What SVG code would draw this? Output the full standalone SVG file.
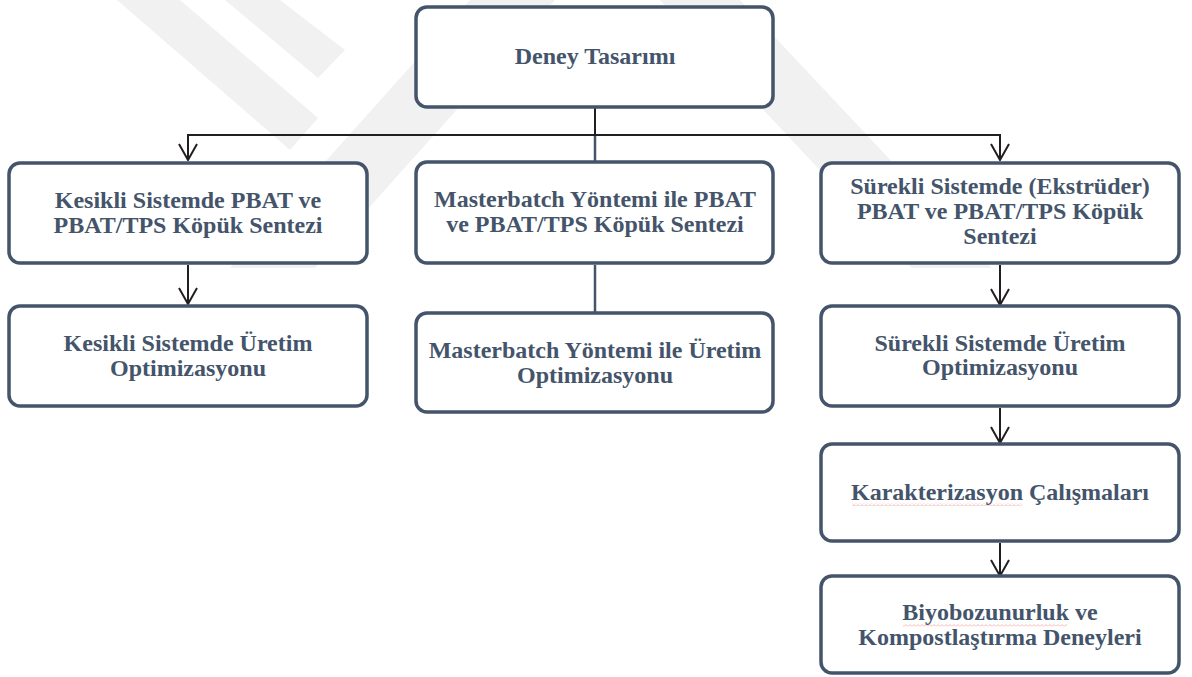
<svg xmlns="http://www.w3.org/2000/svg" width="1192" height="677" viewBox="0 0 1192 677">
<style>
.box{fill:#fff;stroke:#44546A;stroke-width:3.5}
.t{font-family:'Liberation Serif','DejaVu Serif',serif;font-weight:700;font-size:24px;fill:#44546A;text-anchor:middle}
.c{fill:none;stroke:#231F20;stroke-width:2}
.cs{fill:none;stroke:#44546A;stroke-width:2.5}
.wm{fill:#f1f1f1}
</style>
<defs>
<marker id="av" viewBox="0 0 20 18" refX="10" refY="17" markerWidth="20" markerHeight="18" markerUnits="userSpaceOnUse" orient="0">
<path d="M1,1 L10,17 L19,1" fill="none" stroke="#231F20" stroke-width="2"/>
</marker>
<pattern id="sq" width="4" height="3" patternUnits="userSpaceOnUse">
<polyline points="0,2.5 2,0.5 4,2.5" fill="none" stroke="#f2a3a3" stroke-width="0.8"/>
</pattern>
</defs>
<rect width="1192" height="677" fill="#fff"/>
<g id="watermark">
<polygon class="wm" points="117,0 180,0 318,118 290,150"/>
<polygon class="wm" points="225,0 280,0 345,50 318,78"/>
<polygon class="wm" points="470,0 555,0 315,268 230,268"/>
<polygon class="wm" points="660,0 740,0 992,268 912,268"/>
</g>
<g id="connectors">
<line class="c" x1="595" y1="108" x2="595" y2="136" stroke-width="3"/>
<line class="cs" x1="595" y1="135" x2="595" y2="161"/>
<polyline class="c" points="188,160 188,135 1000,135 1000,160" marker-start="url(#av)" marker-end="url(#av)"/>
<line class="c" x1="188" y1="265" x2="188" y2="304" marker-end="url(#av)"/>
<line class="cs" x1="595" y1="265" x2="595" y2="312"/>
<line class="c" x1="1000" y1="265" x2="1000" y2="305" marker-end="url(#av)"/>
<line class="c" x1="1000" y1="408" x2="1000" y2="443" marker-end="url(#av)"/>
<line class="c" x1="1000" y1="543" x2="1000" y2="576" marker-end="url(#av)"/>
</g>
<g id="n-deney">
<rect class="box" x="416" y="7" width="357" height="100" rx="11"/>
<text class="t" x="595" y="64">Deney Tasarımı</text>
</g>
<g id="n-kesikli1">
<rect class="box" x="9" y="163" width="358" height="100" rx="11"/>
<text class="t" x="188" y="208">Kesikli Sistemde PBAT ve</text>
<text class="t" x="188" y="233">PBAT/TPS Köpük Sentezi</text>
</g>
<g id="n-master1">
<rect class="box" x="416" y="162" width="357" height="101" rx="11"/>
<text class="t" x="595" y="207">Masterbatch Yöntemi ile PBAT</text>
<text class="t" x="595" y="232">ve PBAT/TPS Köpük Sentezi</text>
</g>
<g id="n-surekli1">
<rect class="box" x="821" y="163" width="358" height="100" rx="11"/>
<text class="t" x="1000" y="194">Sürekli Sistemde (Ekstrüder)</text>
<text class="t" x="1000" y="219">PBAT ve PBAT/TPS Köpük</text>
<text class="t" x="1000" y="244">Sentezi</text>
</g>
<g id="n-kesikli2">
<rect class="box" x="9" y="306" width="358" height="100" rx="11"/>
<text class="t" x="188" y="351">Kesikli Sistemde Üretim</text>
<text class="t" x="188" y="376">Optimizasyonu</text>
</g>
<g id="n-master2">
<rect class="box" x="416" y="313" width="357" height="99" rx="11"/>
<text class="t" x="595" y="358">Masterbatch Yöntemi ile Üretim</text>
<text class="t" x="595" y="383">Optimizasyonu</text>
</g>
<g id="n-surekli2">
<rect class="box" x="821" y="306" width="358" height="100" rx="11"/>
<text class="t" x="1000" y="351">Sürekli Sistemde Üretim</text>
<text class="t" x="1000" y="375">Optimizasyonu</text>
</g>
<g id="n-karakter">
<rect class="box" x="821" y="444" width="358" height="97" rx="11"/>
<text class="t" x="1000" y="500">Karakterizasyon Çalışmaları</text>
<rect x="852" y="503" width="170" height="3" fill="url(#sq)"/>
</g>
<g id="n-biyo">
<rect class="box" x="821" y="576" width="358" height="97" rx="11"/>
<text class="t" x="1000" y="620">Biyobozunurluk ve</text>
<text class="t" x="1000" y="645">Kompostlaştırma Deneyleri</text>
<rect x="903" y="624" width="164" height="3" fill="url(#sq)"/>
</g>
</svg>
